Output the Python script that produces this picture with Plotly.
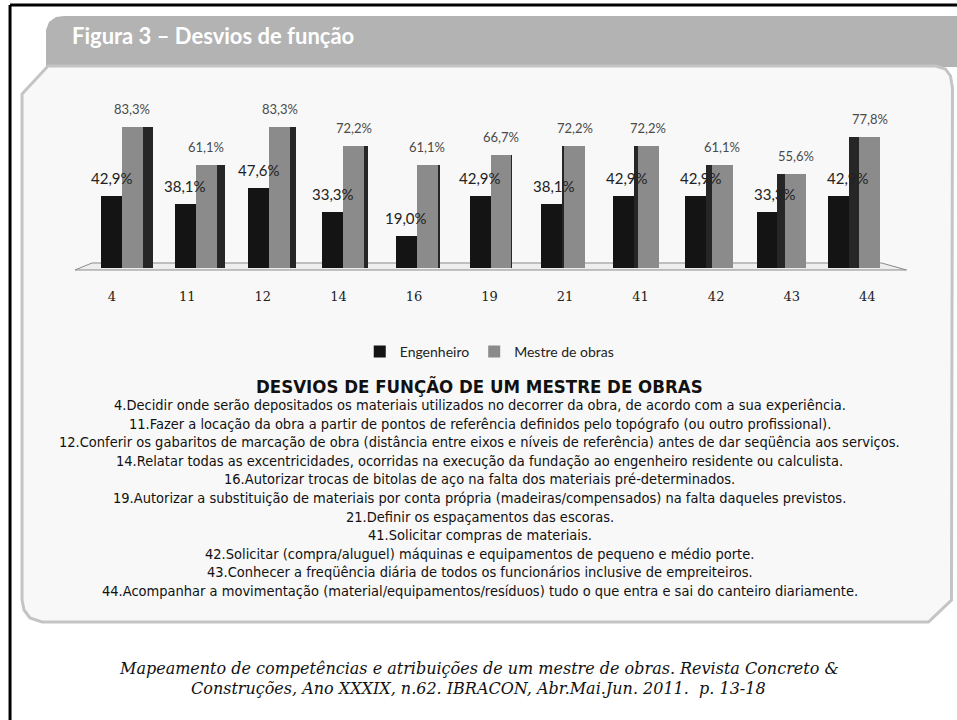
import plotly.graph_objects as go

# ---------------- data ----------------
categories = ["4", "11", "12", "14", "16", "19", "21", "41", "42", "43", "44"]
engenheiro = [42.9, 38.1, 47.6, 33.3, 19.0, 42.9, 38.1, 42.9, 42.9, 33.3, 42.9]
mestre_de_obras = [83.3, 61.1, 83.3, 72.2, 61.1, 66.7, 72.2, 72.2, 61.1, 55.6, 77.8]
series_names = ["Engenheiro", "Mestre de obras"]

banner_title = "Figura 3 – Desvios de função"
list_title = "DESVIOS DE FUNÇÃO DE UM MESTRE DE OBRAS"
descriptions = [
    "4.Decidir onde serão depositados os materiais utilizados no decorrer da obra, de acordo com a sua experiência.",
    "11.Fazer a locação da obra a partir de pontos de referência definidos pelo topógrafo (ou outro profissional).",
    "12.Conferir os gabaritos de marcação de obra (distância entre eixos e níveis de referência) antes de dar seqüência aos serviços.",
    "14.Relatar todas as excentricidades, ocorridas na execução da fundação ao engenheiro residente ou calculista.",
    "16.Autorizar trocas de bitolas de aço na falta dos materiais pré-determinados.",
    "19.Autorizar a substituição de materiais por conta própria (madeiras/compensados) na falta daqueles previstos.",
    "21.Definir os espaçamentos das escoras.",
    "41.Solicitar compras de materiais.",
    "42.Solicitar (compra/aluguel) máquinas e equipamentos de pequeno e médio porte.",
    "43.Conhecer a freqüência diária de todos os funcionários inclusive de empreiteiros.",
    "44.Acompanhar a movimentação (material/equipamentos/resíduos) tudo o que entra e sai do canteiro diariamente.",
]
caption_lines = [
    "Mapeamento de competências e atribuições de um mestre de obras. Revista Concreto &",
    "Construções, Ano XXXIX, n.62. IBRACON, Abr.Mai.Jun. 2011.  p. 13-18",
]

# ---------------- layout geometry ----------------
FIG_W, FIG_H = 957, 720
L, R, T, B = 74, 51.5, 99, 452
PLOT_W = FIG_W - L - R
PLOT_H = FIG_H - T - B
CAT_W = PLOT_W / len(categories)
BASE_Y = FIG_H - B


def X(px):
    return (px - L) / PLOT_W


def Y(py):
    return (BASE_Y - py) / PLOT_H


# pseudo-3D perspective: bars left of centre show right side face,
# bars right of centre show left side face
n = len(categories)
mid = (n - 1) / 2
FACE = 21.0
blk_off, gry_off, side_off, side_w = [], [], [], []
blk_lab_shift, gry_lab_shift = [], []
for i in range(n):
    p = mid - i
    d = 2.0 * abs(p)
    shift = 1.8 * p - (d if p < 0 else 0)
    b_left = -20 + shift
    if p >= 0:
        g_left = 1 + shift
        s_left = g_left + FACE
    else:
        g_left = 1 + shift + d
        s_left = 1 + shift
    blk_off.append(b_left / CAT_W)
    gry_off.append(g_left / CAT_W)
    side_off.append(s_left / CAT_W)
    side_w.append(max(d, 0.01) / CAT_W)
    blk_lab_shift.append(-1.9 * i)
    gry_lab_shift.append(g_left + FACE / 2)

BLACK = "#141414"
GREY = "#8b8b8b"
SIDE = "#262626"
idx = list(range(n))

fig = go.Figure()
fig.add_trace(go.Bar(
    x=idx, y=engenheiro, name=series_names[0],
    marker=dict(color=BLACK, line=dict(width=0)),
    offset=blk_off, width=[FACE / CAT_W] * n,
))
fig.add_trace(go.Bar(
    x=idx, y=mestre_de_obras, name=series_names[1],
    marker=dict(color=GREY, line=dict(width=0)),
    offset=gry_off, width=[FACE / CAT_W] * n,
))
fig.add_trace(go.Bar(
    x=idx, y=mestre_de_obras, name="side", showlegend=False,
    hoverinfo="skip",
    marker=dict(color=SIDE, line=dict(width=0)),
    offset=side_off, width=side_w,
))


def fmt(v):
    return f"{v:.1f}".replace(".", ",") + "%"


annotations = []
for i in idx:
    annotations.append(dict(
        x=i, y=engenheiro[i], xref="x", yref="y", text=fmt(engenheiro[i]),
        showarrow=False, xshift=blk_lab_shift[i], yshift=18,
        font=dict(family="Lato, Noto Sans, sans-serif", size=15, color="#222222"),
    ))
    annotations.append(dict(
        x=i, y=mestre_de_obras[i], xref="x", yref="y", text=fmt(mestre_de_obras[i]),
        showarrow=False, xshift=gry_lab_shift[i], yshift=18,
        font=dict(family="Lato, Noto Sans, sans-serif", size=13, color="#4a4a4a"),
    ))

# banner title
annotations.append(dict(
    x=X(70), y=Y(35), xref="paper", yref="paper", xanchor="left", yanchor="middle",
    text="<b>" + banner_title + "</b>", showarrow=False,
    font=dict(family="Lato, Open Sans, sans-serif", size=22, color="#ffffff"),
))

NARROW = "Liberation Sans Narrow, DejaVu Sans Condensed, Arial Narrow, Liberation Sans, sans-serif"
annotations.append(dict(
    x=X(480), y=Y(386), xref="paper", yref="paper", xanchor="center", yanchor="middle",
    text="<b>" + list_title + "</b>", showarrow=False,
    font=dict(family=NARROW, size=18.5, color="#111111"),
))
for k, line in enumerate(descriptions):
    annotations.append(dict(
        x=X(480), y=Y(405 + 18.6 * k), xref="paper", yref="paper",
        xanchor="center", yanchor="middle", text=line, showarrow=False,
        font=dict(family=NARROW, size=14.5, color="#111111"),
    ))
for k, line in enumerate(caption_lines):
    annotations.append(dict(
        x=X(479), y=Y(668 + 20 * k), xref="paper", yref="paper",
        xanchor="center", yanchor="middle", text="<i>" + line + "</i>", showarrow=False,
        font=dict(family="DejaVu Serif, Liberation Serif, serif", size=16, color="#111111"),
    ))


def path(points, close=True):
    s = "M " + " L ".join(f"{X(px):.5f},{Y(py):.5f}" for px, py in points)
    return s + (" Z" if close else "")


shapes = []
# outer frame
shapes.append(dict(type="line", xref="paper", yref="paper", x0=X(10), x1=X(10), y0=Y(5), y1=Y(725),
                   line=dict(color="#000000", width=3)))
shapes.append(dict(type="line", xref="paper", yref="paper", x0=X(10), x1=X(960), y0=Y(5), y1=Y(5),
                   line=dict(color="#000000", width=3)))
# banner
shapes.append(dict(type="path", xref="paper", yref="paper", layer="below",
                   path=path([(46, 67), (46, 30), (49, 22), (56, 17), (64, 16), (960, 16), (960, 67)]),
                   fillcolor="#b3b3b3", line=dict(width=0)))
# panel
shapes.append(dict(type="path", xref="paper", yref="paper", layer="below",
                   path=path([(48, 66), (936, 66), (946, 69), (951, 76), (953, 88), (952, 600),
                              (929, 622), (42, 622), (30, 618), (24, 610), (22, 600), (22, 94)]),
                   fillcolor="#f8f8f8", line=dict(color="#c4c4c4", width=3)))
# floor
shapes.append(dict(type="path", xref="paper", yref="paper", layer="below",
                   path=path([(75, 270), (907, 270), (882, 263), (92, 263)]),
                   fillcolor="#eeeeee", line=dict(color="#8a8a8a", width=1)))

fig.update_layout(
    width=FIG_W, height=FIG_H,
    margin=dict(l=L, r=R, t=T, b=B, pad=0, autoexpand=False),
    paper_bgcolor="#ffffff", plot_bgcolor="rgba(0,0,0,0)",
    barmode="overlay", bargap=0,
    showlegend=True,
    legend=dict(orientation="h", x=X(490), xanchor="center", y=Y(352), yanchor="middle",
                bgcolor="rgba(0,0,0,0)", font=dict(family="Lato, Noto Sans, sans-serif", size=14, color="#222222"),
                itemwidth=30, tracegroupgap=0),
    xaxis=dict(type="linear", range=[-0.5, n - 0.5], showgrid=False, showline=False, zeroline=False,
               ticks="", tickmode="array", tickvals=idx, ticktext=categories,
               ticklabelstandoff=19, fixedrange=True,
               tickfont=dict(family="DejaVu Serif, Liberation Serif, serif", size=13, color="#222222")),
    yaxis=dict(range=[0, 100], visible=False, fixedrange=True),
    annotations=annotations, shapes=shapes,
    hovermode=False,
)

fig.write_html("out.html", config={"displayModeBar": False},
               post_script="document.body.style.margin='0';document.body.style.overflow='hidden';")
